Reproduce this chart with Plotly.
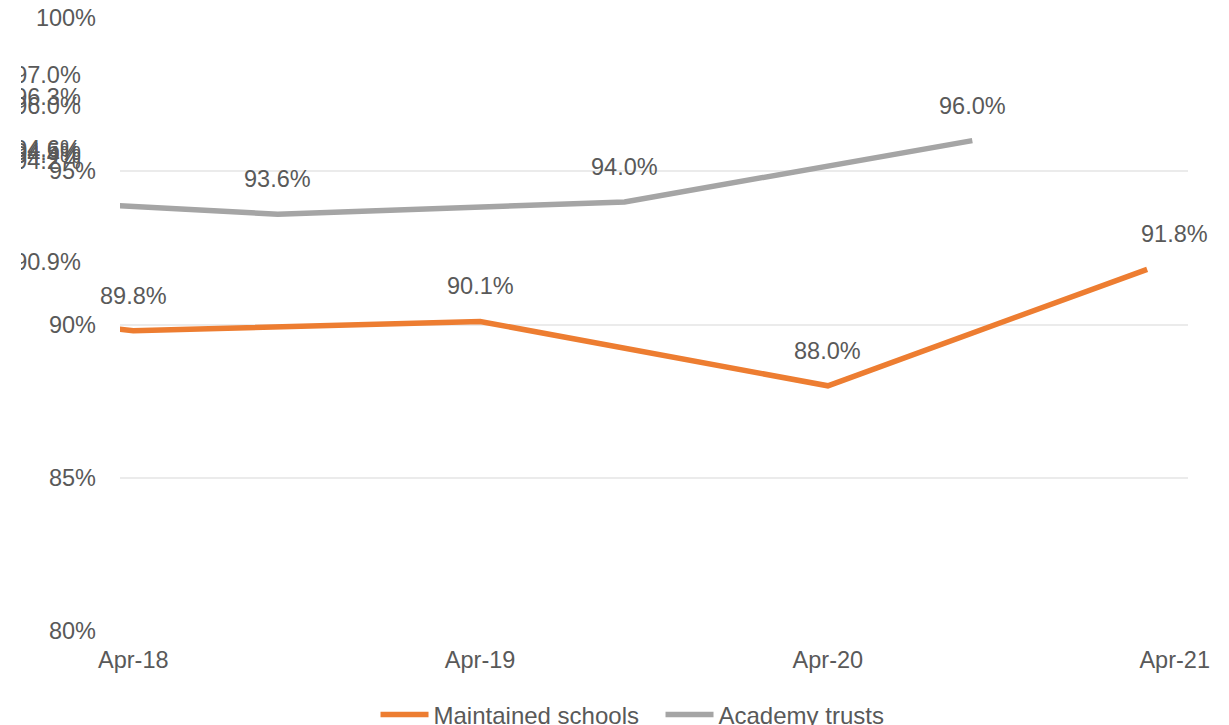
import plotly.graph_objects as go

# ---- data -------------------------------------------------------------
# Academy trusts (accounting year ends 31 August)
academy_dates = ["2018-08-31", "2019-08-31", "2020-08-31"]
academy_values = [93.6, 94.0, 96.0]
# earlier academy years, falling before the plotted window
academy_prior_dates = ["2011-08-31", "2012-08-31", "2013-08-31", "2014-08-31",
                       "2015-08-31", "2016-08-31", "2017-08-31"]
academy_prior_values = [97.0, 96.3, 96.0, 94.6, 94.5, 94.4, 94.2]

# Maintained schools (financial year ends 31 March)
maintained_dates = ["2018-04-01", "2019-04-01", "2020-04-01", "2021-03-03"]
maintained_values = [89.8, 90.1, 88.0, 91.8]
maintained_prior_dates = ["2017-04-01"]
maintained_prior_values = [90.9]

y_ticks = [80, 85, 90, 95, 100]
y_tick_labels = ["80%", "85%", "90%", "95%", "100%"]
x_ticks = ["2018-04-01", "2019-04-01", "2020-04-01", "2021-04-01"]
x_range = ["2018-03-18", "2021-04-15"]

ORANGE = "#ED7D31"
GREY = "#A5A5A5"
TEXT = "#595959"
FONT = "Liberation Sans, Arial, sans-serif"
FS = 23.5

W, H = 1229, 725
ML, MR, MT, MB = 21, 41, 18, 94
PLOT_LEFT = 120
paper_w = W - ML - MR
main_start = (PLOT_LEFT - ML) / paper_w


def pct(v):
    return f"{v:.1f}%"


fig = go.Figure()

fig.add_trace(go.Scatter(
    x=maintained_prior_dates + maintained_dates,
    y=maintained_prior_values + maintained_values,
    mode="lines", name="Maintained schools",
    line=dict(color=ORANGE, width=5.5),
    hoverinfo="skip",
))
fig.add_trace(go.Scatter(
    x=academy_prior_dates + academy_dates,
    y=academy_prior_values + academy_values,
    mode="lines", name="Academy trusts",
    line=dict(color=GREY, width=5.5),
    hoverinfo="skip",
))

# labels of the earlier years, stacked at the left edge of the chart
prior_values = academy_prior_values + maintained_prior_values
fig.add_trace(go.Scatter(
    x=[26.5] * len(prior_values),
    y=prior_values,
    xaxis="x2", yaxis="y2",
    mode="markers+text",
    marker=dict(size=32, opacity=0),
    text=[pct(v) for v in prior_values],
    textposition="top center",
    textfont=dict(family=FONT, size=FS, color=TEXT),
    cliponaxis=True,
    showlegend=False,
    hoverinfo="skip",
))

# value labels above the plotted points
annotations = []
for d, v in zip(maintained_dates, maintained_values):
    annotations.append(dict(
        x=d, y=v, xref="x", yref="y", text=pct(v), showarrow=False,
        yanchor="middle", yshift=35,
        xshift=27 if d == maintained_dates[-1] else 0,
        font=dict(family=FONT, size=FS, color=TEXT)))
for d, v in zip(academy_dates, academy_values):
    annotations.append(dict(
        x=d, y=v, xref="x", yref="y", text=pct(v), showarrow=False,
        yanchor="middle", yshift=35,
        font=dict(family=FONT, size=FS, color=TEXT)))

fig.update_layout(
    width=W, height=H,
    margin=dict(l=ML, r=MR, t=MT, b=MB, pad=0, autoexpand=False),
    paper_bgcolor="white", plot_bgcolor="white",
    font=dict(family=FONT, size=FS, color=TEXT),
    xaxis=dict(
        type="date", domain=[main_start, 1], range=x_range,
        tickvals=x_ticks, tickformat="%b-%y",
        showgrid=False, zeroline=False, showline=False, ticks="",
        ticklabelstandoff=12,
        tickfont=dict(family=FONT, size=FS, color=TEXT),
    ),
    yaxis=dict(
        range=[80, 100], tickvals=y_ticks, ticktext=y_tick_labels,
        showgrid=True, gridcolor="#EBEBEB", gridwidth=1.5,
        zeroline=False, showline=False, ticks="",
        ticklabelstandoff=23,
        tickfont=dict(family=FONT, size=FS, color=TEXT),
    ),
    xaxis2=dict(domain=[0, main_start], range=[0, PLOT_LEFT - ML],
                visible=False, fixedrange=True),
    yaxis2=dict(range=[80, 100], anchor="x2", visible=False, fixedrange=True),
    legend=dict(
        orientation="h", x=0.548, xanchor="center", y=-0.1, yanchor="top",
        font=dict(family=FONT, size=24, color=TEXT),
        itemwidth=48, entrywidth=222, bgcolor="rgba(0,0,0,0)",
    ),
    annotations=annotations,
    showlegend=True,
)

fig.write_html("out.html")
